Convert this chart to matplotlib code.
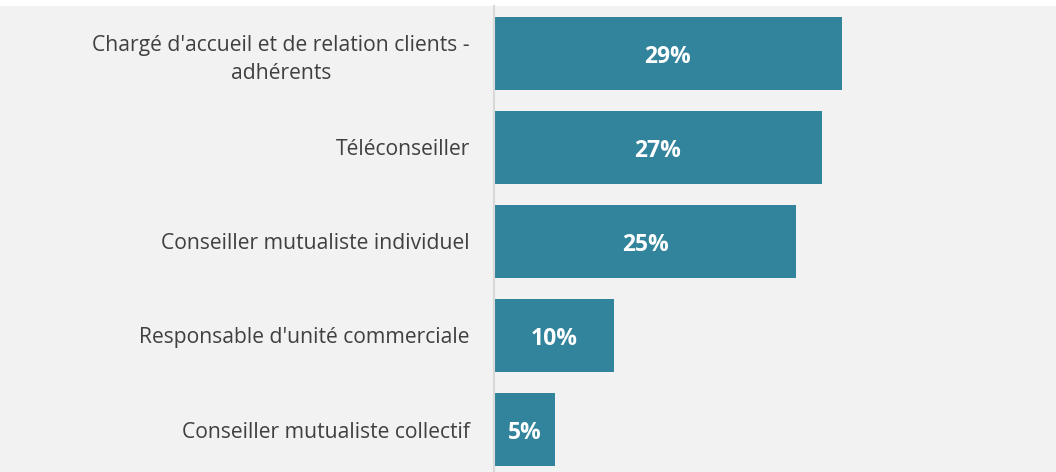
import matplotlib
matplotlib.use("Agg")
import matplotlib.pyplot as plt

categories = [
    "Chargé d'accueil et de relation clients -\nadhérents",
    "Téléconseiller",
    "Conseiller mutualiste individuel",
    "Responsable d'unité commerciale",
    "Conseiller mutualiste collectif",
]
values = [29.0, 27.3, 25.2, 10.0, 5.1]
value_labels = ["29%", "27%", "25%", "10%", "5%"]

W, H = 1056, 472
fig = plt.figure(figsize=(W / 100, H / 100), dpi=100)
fig.patch.set_facecolor("white")
ax = fig.add_axes([494 / W, 0, 1 - 494 / W, (H - 6) / H])
ax.set_facecolor("#f2f2f2")
bg = fig.add_axes([0, 0, 1, (H - 6) / H], zorder=-1)
bg.set_facecolor("#f2f2f2")
bg.set_xticks([]); bg.set_yticks([])
for s in bg.spines.values():
    s.set_visible(False)

ypos = list(range(len(categories)))
ax.barh(ypos, values, height=0.777, color="#31849b", edgecolor="none")
ax.set_xlim(0, (W - 494) / 12)
ax.set_ylim(4.452, -0.505)

for y, v, lab in zip(ypos, values, value_labels):
    ax.text(v / 2, y + 0.01, lab, ha="center", va="center_baseline", color="white",
            fontsize=16.5, fontweight="bold", family="Open Sans")

ax.set_yticks(ypos)
ax.set_yticklabels(categories, fontsize=15.2, color="#404040", family="Open Sans",
                   linespacing=1.42)
ax.set_xticks([])
for lbl in ax.get_yticklabels():
    lbl.set_horizontalalignment("right")
    lbl.set_multialignment("center")
for name, s in ax.spines.items():
    s.set_visible(name == "left")
ax.spines["left"].set_color("#d9d9d9")
ax.spines["left"].set_linewidth(1.5)
ax.tick_params(axis="y", length=0, pad=17.3)

fig.savefig("out.png", dpi=100, facecolor=fig.get_facecolor())
